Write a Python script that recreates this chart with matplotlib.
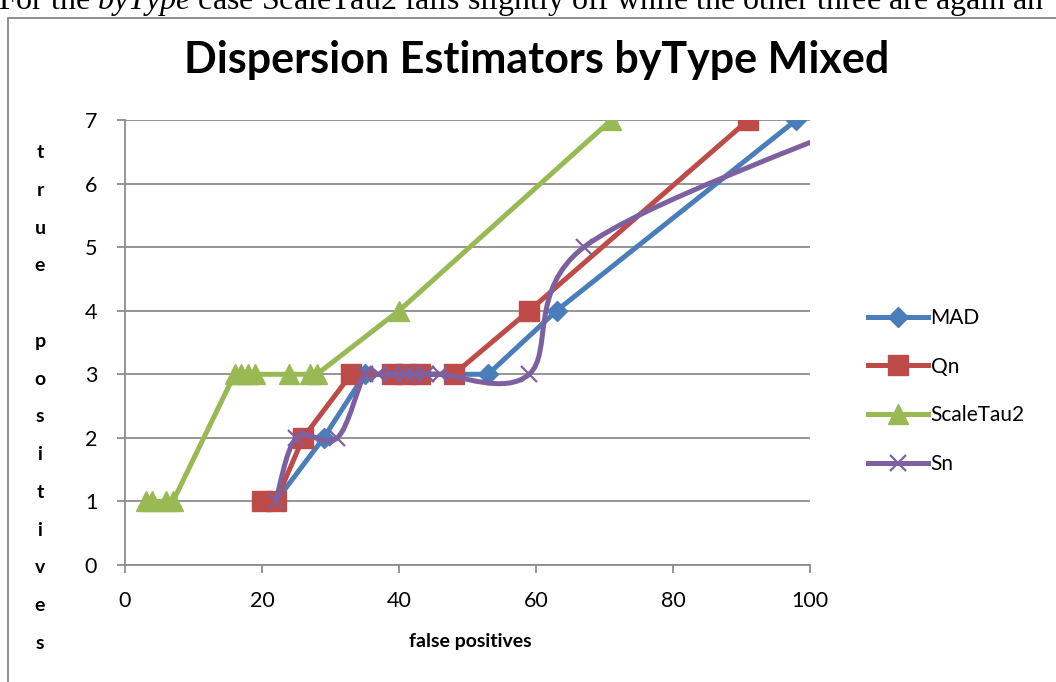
import matplotlib
matplotlib.use('Agg')
import matplotlib.pyplot as plt
from matplotlib.path import Path
from matplotlib.patches import PathPatch, Rectangle
from matplotlib.lines import Line2D

plt.rcParams['font.family'] = ['Lato', 'DejaVu Sans']
plt.rcParams['mathtext.fontset'] = 'custom'
plt.rcParams['mathtext.rm'] = 'Liberation Serif'
plt.rcParams['mathtext.it'] = 'Liberation Serif:italic'

# data
mad_x = [22, 29, 35, 41, 53, 63, 98]
mad_y = [1, 2, 3, 3, 3, 4, 7]
qn_x = [20, 22, 26, 33, 39, 41, 43, 48, 59, 91]
qn_y = [1, 1, 2, 3, 3, 3, 3, 3, 4, 7]
tau_x = [3, 4, 6, 7, 16, 17, 18, 19, 24, 27, 28, 40, 71]
tau_y = [1, 1, 1, 1, 3, 3, 3, 3, 3, 3, 3, 4, 7]
sn_x = [22, 25, 31, 35, 37, 39, 41, 42, 44, 46, 59, 67, 108]
sn_y = [1, 2, 2, 3, 3, 3, 3, 3, 3, 3, 3, 5, 7]

x_ticks = [0, 20, 40, 60, 80, 100]
y_ticks = [0, 1, 2, 3, 4, 5, 6, 7]

c_mad = '#4A7EBB'
c_qn = '#BE4B48'
c_tau = '#98B954'
c_sn = '#7D60A0'


def smooth_path(xs, ys):
    """Excel-like smoothed line as cubic Bezier (Catmull-Rom style)."""
    pts = list(zip(xs, ys))
    n = len(pts)
    tang = []
    for i in range(n):
        a = pts[max(i - 1, 0)]
        b = pts[min(i + 1, n - 1)]
        tang.append(((b[0] - a[0]) / 6.0, (b[1] - a[1]) / 6.0))
    verts = [pts[0]]
    codes = [Path.MOVETO]
    for i in range(n - 1):
        p0, p1 = pts[i], pts[i + 1]
        verts += [(p0[0] + tang[i][0], p0[1] + tang[i][1]),
                  (p1[0] - tang[i + 1][0], p1[1] - tang[i + 1][1]),
                  p1]
        codes += [Path.CURVE4] * 3
    return Path(verts, codes)


fig = plt.figure(figsize=(10.56, 6.82), dpi=100)

# line of the surrounding page text, cut by the top edge as in the screenshot
fig.text(-0.002, 0.999,
         r'For the $\it{byType}$ case ScaleTau2 falls slightly off while the other three are again an',
         fontsize=23, family='Liberation Serif', va='center', ha='left')

# chart border
fig.patches.append(Rectangle((8 / 1056, -0.05), 1.2, 1 - 18 / 682 + 0.05,
                             transform=fig.transFigure, fill=False,
                             edgecolor='#868686', lw=1.3))

ax = fig.add_axes([125 / 1056, 1 - 565 / 682, 685 / 1056, 445 / 682])

ax.plot(mad_x, mad_y, color=c_mad, lw=3.6, marker='D', ms=10, zorder=3, label='MAD')
ax.plot(qn_x, qn_y, color=c_qn, lw=3.6, marker='s', ms=14, zorder=4, label='Qn')
ax.plot(tau_x, tau_y, color=c_tau, lw=3.6, marker='^', ms=15, zorder=5, label='ScaleTau2')
ax.add_patch(PathPatch(smooth_path(sn_x, sn_y), fill=False, edgecolor=c_sn,
                       lw=3.6, zorder=6, capstyle='round'))
ax.plot(sn_x, sn_y, ls='none', marker='x', ms=12, mew=1.6, color=c_sn, zorder=7)

ax.set_xlim(0, 100)
ax.set_ylim(0, 7)
ax.set_xticks(x_ticks)
ax.set_yticks(y_ticks)
ax.grid(axis='y', color='#8C8C8C', lw=1.3)
ax.set_axisbelow(True)
for s in ['top', 'right']:
    ax.spines[s].set_visible(False)
for s in ['left', 'bottom']:
    ax.spines[s].set_color('#8C8C8C')
    ax.spines[s].set_linewidth(1.3)
ax.tick_params(axis='x', direction='out', length=6, width=1.3, color='#8C8C8C',
               labelsize=15.5, pad=13)
ax.tick_params(axis='y', direction='out', length=6, width=1.3, color='#8C8C8C',
               labelsize=15.5, pad=14)

fig.text(537 / 1056, 1 - 60 / 682, 'Dispersion Estimators byType Mixed',
         fontsize=31, fontweight='bold', ha='center', va='center')
fig.text(470 / 1056, 1 - 641 / 682, 'false positives',
         fontsize=14, fontweight='bold', ha='center', va='center')

fig.text(40 / 1056, 1 - 398 / 682, '\n'.join('true') + '\n\n' + '\n'.join('positives'),
         fontsize=14, fontweight='bold', ha='center', va='center', linespacing=2.48)

handles = [
    Line2D([], [], color=c_mad, lw=3.6, marker='D', ms=10),
    Line2D([], [], color=c_qn, lw=3.6, marker='s', ms=14),
    Line2D([], [], color=c_tau, lw=3.6, marker='^', ms=15),
    Line2D([], [], color=c_sn, lw=3.6, marker='x', ms=12, mew=1.6),
]
fig.legend(handles, ['MAD', 'Qn', 'ScaleTau2', 'Sn'], loc='center left',
           bbox_to_anchor=(868 / 1056, 1 - 391 / 682), frameon=False,
           fontsize=15, handlelength=2.9, handletextpad=0.1, labelspacing=1.38,
           borderpad=0, borderaxespad=0)

fig.savefig('out.png', dpi=100)
